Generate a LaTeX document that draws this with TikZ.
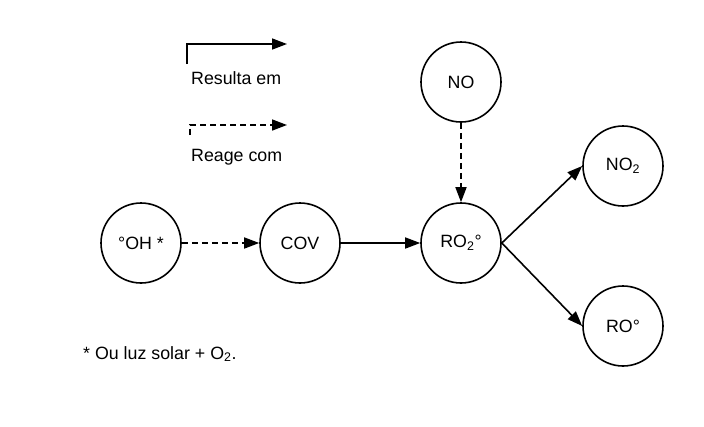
\documentclass[tikz,border=0pt]{standalone}
\usepackage{fontspec}
\setmainfont{Liberation Sans}
\usetikzlibrary{arrows.meta}

\tikzset{
  species/.style={draw, circle, minimum size=80pt, inner sep=0pt, line width=1.6pt},
  result/.style={-{Triangle[length=15pt,width=11pt]}, line width=1.6pt},
  react/.style={-{Triangle[length=15pt,width=11pt]}, line width=1.6pt, dash pattern=on 6pt off 4pt},
}

\begin{document}
\begin{tikzpicture}[x=1pt, y=-1pt, font=\fontsize{17.8}{20}\selectfont]

    \useasboundingbox (0,0) rectangle (704,426);

    % legend
    \coordinate (r1) at (187, 64);
    \coordinate (r2) at (287, 44);
    \coordinate (d1) at (190, 135);
    \coordinate (d2) at (287, 125);
    \node [anchor=west, inner sep=0pt] (rl) at (191, 78) {Resulta em};
    \node [anchor=west, inner sep=0pt] (dl) at (191, 157) {Reage com};

    \node [species] (oh)  at (141, 243) {°OH *};
    \node [species] (cov) at (300, 243) {COV};
    \node [species] (ro2) at (461, 243) {RO\textsubscript{2}°};
    \node [species] (no)  at (461,  82) {NO};
    \node [species] (no2) at (623, 166) {NO\textsubscript{2}};
    \node [species] (ro)  at (623, 326) {RO°};

    \node [anchor=west, inner sep=0pt] (nota) at (83, 354) {* Ou luz solar + O\textsubscript{2}.};

    \draw [result] (r1) |- (r2);
    \draw [react] (d1) |- (d2);

    \draw [react] (oh) to (cov);
    \draw [result] (cov) to (ro2);
    \draw [react] (no) to (ro2);
    \draw [result] (ro2.east) to (no2.west);
    \draw [result] (ro2.east) to (ro.west);

\end{tikzpicture}
\end{document}
